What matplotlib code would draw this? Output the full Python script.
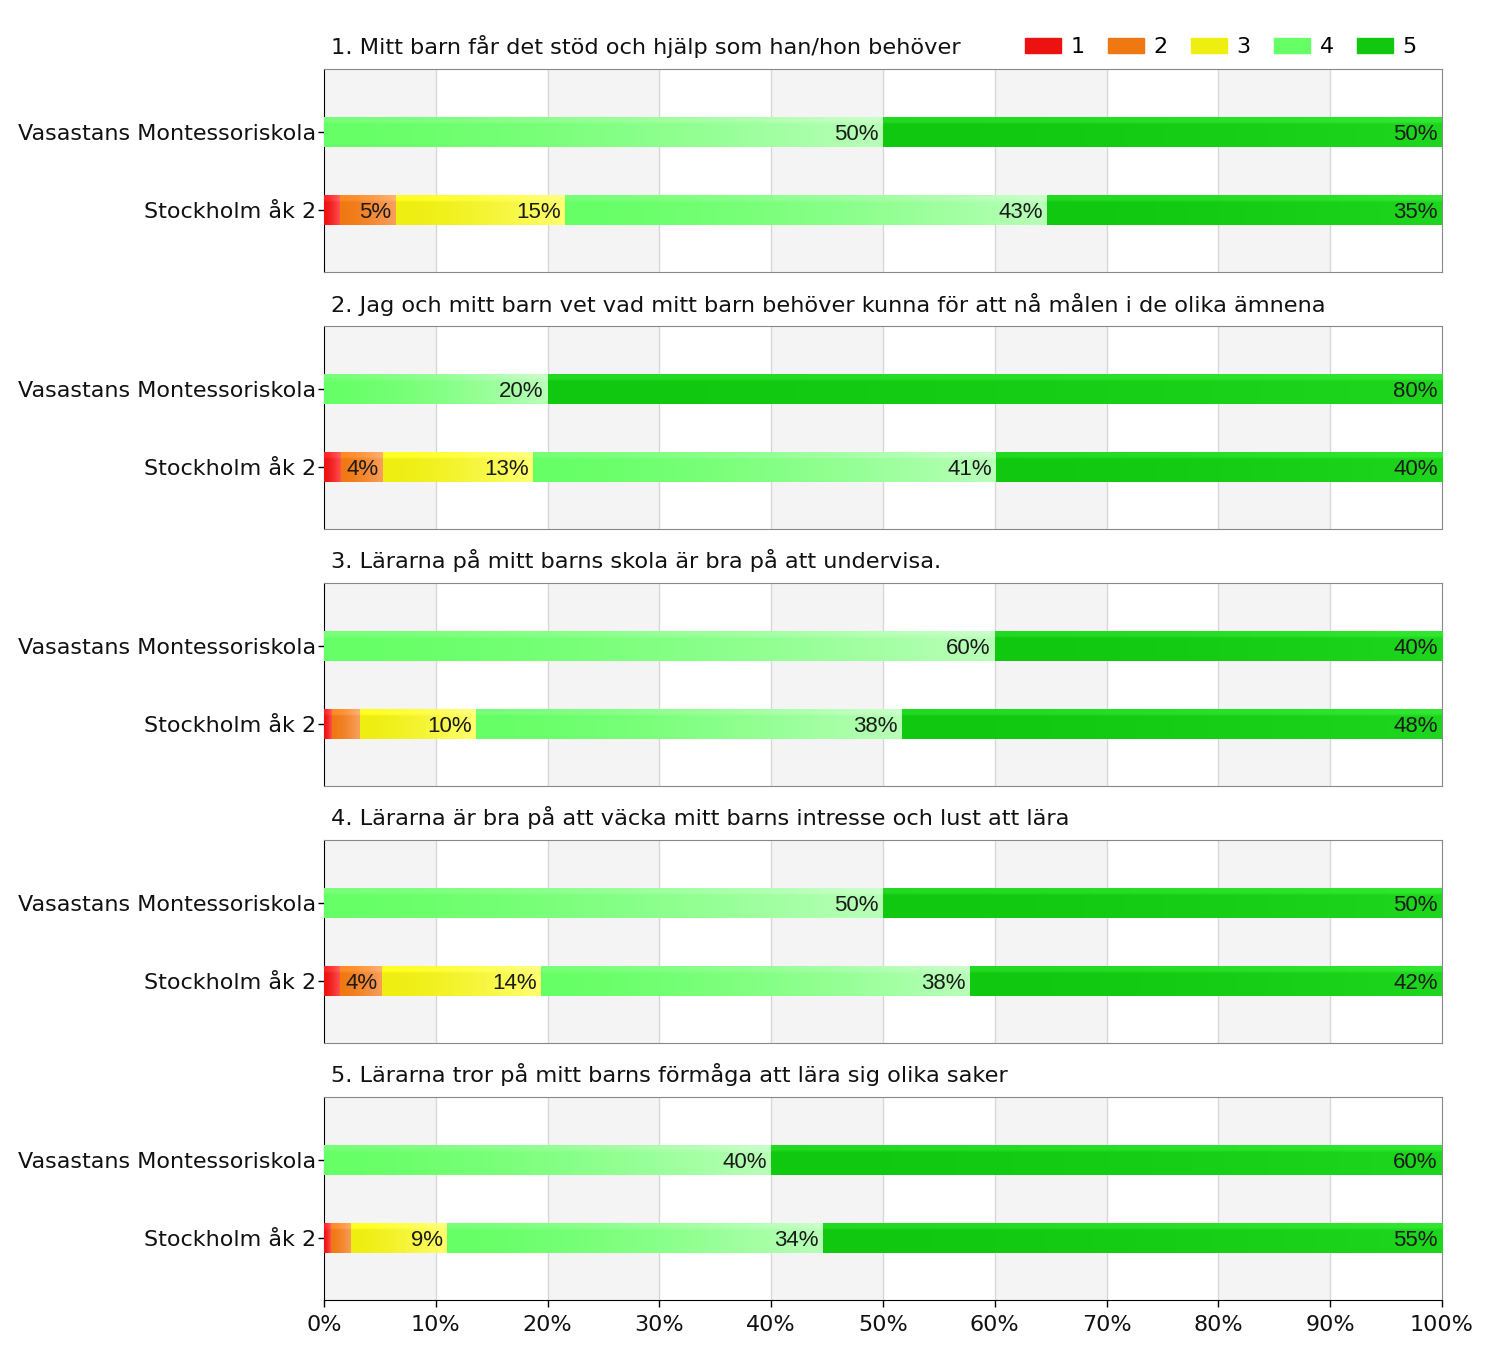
import numpy as np
import matplotlib
matplotlib.use("Agg")
import matplotlib.pyplot as plt
from matplotlib.patches import Patch
from matplotlib.colors import to_rgb

plt.rcParams['font.family'] = ['DejaVu Sans']

categories = ["Vasastans Montessoriskola", "Stockholm åk 2"]
levels = ["1", "2", "3", "4", "5"]
titles = [
    "1. Mitt barn får det stöd och hjälp som han/hon behöver",
    "2. Jag och mitt barn vet vad mitt barn behöver kunna för att nå målen i de olika ämnena",
    "3. Lärarna på mitt barns skola är bra på att undervisa.",
    "4. Lärarna är bra på att väcka mitt barns intresse och lust att lära",
    "5. Lärarna tror på mitt barns förmåga att lära sig olika saker",
]
# percentages per response level 1..5
q1_vasa = [0, 0, 0, 50, 50]
q1_sthlm = [1.4, 5.0, 15.2, 43.1, 35.3]
q2_vasa = [0, 0, 0, 20, 80]
q2_sthlm = [1.5, 3.8, 13.4, 41.4, 39.9]
q3_vasa = [0, 0, 0, 60, 40]
q3_sthlm = [0.7, 2.5, 10.4, 38.1, 48.3]
q4_vasa = [0, 0, 0, 50, 50]
q4_sthlm = [1.4, 3.8, 14.2, 38.4, 42.2]
q5_vasa = [0, 0, 0, 40, 60]
q5_sthlm = [0.6, 1.8, 8.6, 33.6, 55.4]
x_ticks = [0, 10, 20, 30, 40, 50, 60, 70, 80, 90, 100]
x_ticklabels = ["0%", "10%", "20%", "30%", "40%", "50%", "60%", "70%", "80%", "90%", "100%"]

data = [(q1_vasa, q1_sthlm), (q2_vasa, q2_sthlm), (q3_vasa, q3_sthlm),
        (q4_vasa, q4_sthlm), (q5_vasa, q5_sthlm)]

base_colors = ["#ee1111", "#f07812", "#eeee10", "#66ff66", "#11c811"]
light_colors = ["#ff5050", "#f8a060", "#ffff70", "#b8ffb8", "#1ed61e"]

W, H = 1500, 1354
fig = plt.figure(figsize=(W / 100, H / 100), dpi=100)

panel_tops = [69, 326, 583, 840, 1097]
ph = 203
left_px, right_px = 324, 1442


def gradient_fill(ax, patch, c0, c1):
    x0, y0 = patch.get_x(), patch.get_y()
    w, h = patch.get_width(), patch.get_height()
    if w <= 0:
        return
    n = 64
    a = np.array(to_rgb(c0))
    b = np.array(to_rgb(c1))
    t = np.linspace(0, 1, n) ** 1.5
    row = a[None, :] * (1 - t[:, None]) + b[None, :] * t[:, None]
    img = np.repeat(row[None, :, :], 10, axis=0)
    img[0:2] = np.clip(img[0:2] + 0.07, 0, 1)
    im = ax.imshow(img, extent=(x0, x0 + w, y0 + h, y0), aspect='auto',
                   interpolation='bilinear', zorder=3)
    im.set_clip_path(patch)


ylim = (1 + 62 / 78, -63 / 78)
bar_h = 30 / 78

for i, (vasa, sthlm) in enumerate(data):
    top = panel_tops[i]
    ax = fig.add_axes([left_px / W, 1 - (top + ph) / H, (right_px - left_px) / W, ph / H])
    for k in range(0, 100, 20):
        ax.axvspan(k, k + 10, color="#f4f4f4", zorder=0, lw=0)
    for k in range(10, 100, 10):
        ax.axvline(k, color="#d8d8d8", lw=1, zorder=1)
    rows = [vasa, sthlm]
    for r, vals in enumerate(rows):
        left = 0.0
        for j, v in enumerate(vals):
            if v > 0:
                bars = ax.barh(r, v, left=left, height=bar_h, color=base_colors[j],
                               lw=0, zorder=2)
                gradient_fill(ax, bars[0], base_colors[j], light_colors[j])
                if v >= 3.5:
                    ax.annotate(f"{round(v)}%", xy=(left + v, r), xytext=(-3, -1.5),
                                textcoords="offset points", ha="right", va="center",
                                fontsize=16, family="Liberation Sans", color="#1a1a1a",
                                zorder=5)
            left += v
    ax.set_xlim(0, 100)
    ax.set_ylim(*ylim)
    ax.set_yticks([0, 1])
    ax.set_yticklabels(categories, fontsize=16, color="#111111")
    ax.tick_params(axis='y', length=4, width=1, color="black", pad=1.5)
    for s in ["top", "right", "bottom"]:
        ax.spines[s].set_color("#888888")
    ax.spines["left"].set_color("black")
    if i == 4:
        ax.set_xticks(x_ticks)
        ax.set_xticklabels(x_ticklabels, fontsize=16, color="#111111")
        ax.spines["bottom"].set_color("black")
        ax.tick_params(axis='x', length=5, width=1, color="black", pad=6)
    else:
        ax.set_xticks([])
    ax.text(331 / W, 1 - (top - 22) / H, titles[i], transform=fig.transFigure,
            fontsize=16.2, color="#111111", ha="left", va="center")

handles = [Patch(facecolor=c, edgecolor=c) for c in base_colors]
fig.legend(handles, levels, loc="center right", bbox_to_anchor=(1417 / W, 1 - 47 / H),
           ncol=5, frameon=False, fontsize=16, handlelength=1.6, handleheight=0.68,
           handletextpad=0.45, columnspacing=1.05, borderpad=0, borderaxespad=0)

fig.savefig("out.png", dpi=100)
